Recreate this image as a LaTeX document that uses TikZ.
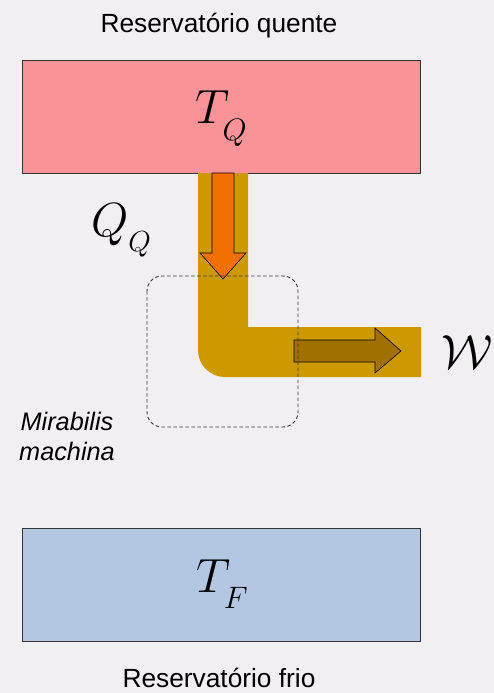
\RequirePackage{fix-cm}
\documentclass[tikz,border=0pt]{standalone}
\usepackage{fontspec}
\setmainfont{Liberation Sans}
\definecolor{bgc}{HTML}{F1EFF1}
\definecolor{hotc}{HTML}{F99398}
\definecolor{coldc}{HTML}{B2C8E2}
\definecolor{goldc}{HTML}{CC9900}
\definecolor{orangec}{HTML}{F27000}
\definecolor{brownc}{HTML}{A07000}
\definecolor{edgec}{HTML}{333333}
\definecolor{dashc}{HTML}{3A3A3A}
\begin{document}
\begin{tikzpicture}[x=1pt,y=-1pt,
  reservoir/.style={draw=edgec, line width=0.9pt, minimum width=398pt, minimum height=113pt, inner sep=0pt},
  caption/.style={font=\fontsize{26.3}{30}\selectfont, inner sep=0pt, anchor=base},
  bigmath/.style={font=\fontsize{48}{50}\selectfont, inner sep=0pt, anchor=base west},
  arrowshape/.style={draw=black, line width=0.6pt}]
\useasboundingbox (0,0) rectangle (494,693);
\fill[bgc] (0,0) rectangle (494,693);

% reservoirs
\node[reservoir, fill=hotc] (hot) at (221,116.5) {};
\node[reservoir, fill=coldc] (cold) at (221,585) {};

\node[caption] (hotlabel) at (219,33) {Reservatório quente};
\node[caption] (coldlabel) at (219,687) {Reservatório frio};

\node[bigmath] (TQ) at (195,123) {$T_{\lower10pt\hbox{\fontsize{31}{31}\selectfont$Q$}}$};
\node[bigmath] (TF) at (196,592) {$T_{\lower9pt\hbox{\fontsize{31}{31}\selectfont$F$}}$};

% gold band
\fill[goldc] (198,173) -- (248,173) -- (248,327) -- (421,327) -- (421,377) -- (225,377)
  .. controls (210,377) and (198,365) .. (198,350) -- cycle;

% heat arrow
\draw[arrowshape, fill=orangec] (212,173) -- (234,173) -- (234,253) -- (246,253) -- (223,279)
  -- (200,253) -- (212,253) -- cycle;

% work arrow
\draw[arrowshape, fill=brownc] (294,340) -- (375,340) -- (375,328) -- (401,351) -- (375,373)
  -- (375,362) -- (294,362) -- cycle;

% machine boundary
\draw[draw=dashc, line width=0.9pt, dash pattern=on 3.5pt off 2.5pt, rounded corners=15pt]
  (147,276) rectangle (298,427);

\node[bigmath] (QQ) at (91,236) {$Q_{\lower8pt\hbox{\fontsize{29}{29}\selectfont$Q$}}$};
\node[bigmath] (W) at (441,368) {$\mathcal{W}$};

\node[font=\fontsize{25.3}{30}\selectfont\itshape, align=center, inner sep=0pt, anchor=base] (mach) at (67,460)
  {Mirabilis\\machina};
\end{tikzpicture}
\end{document}
